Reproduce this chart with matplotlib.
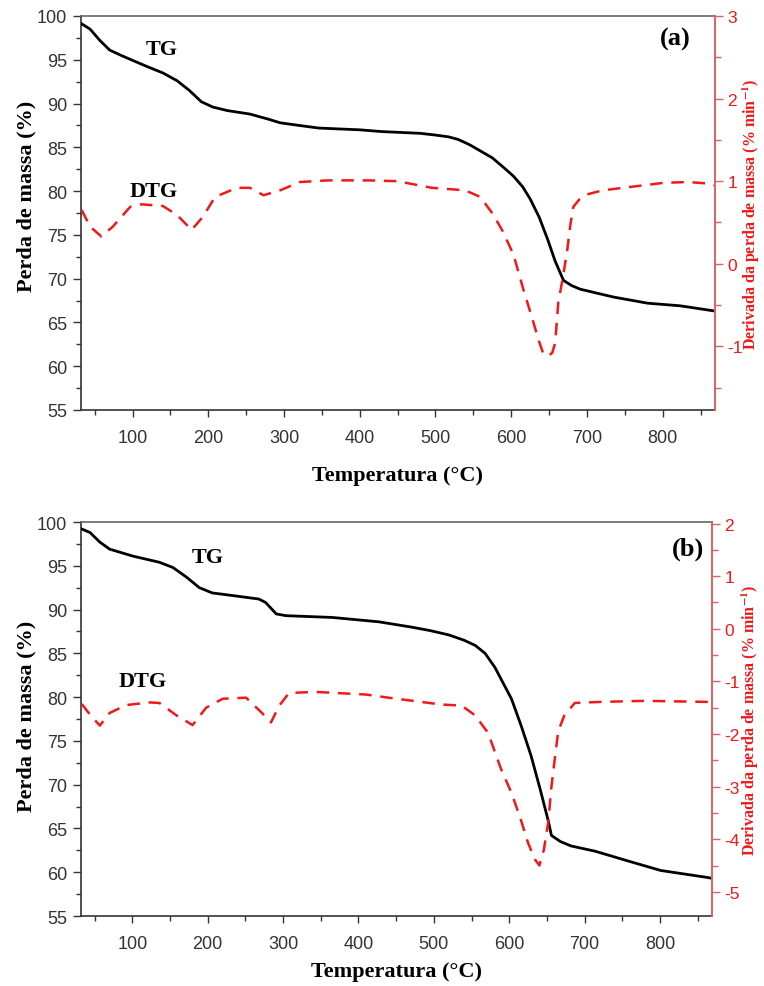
'''
TG / DTG curves for two samples, (a) on top and (b) below.
'''

import numpy as np
import matplotlib.pyplot as plt
from matplotlib.ticker import MultipleLocator

plt.rcParams['mathtext.fontset'] = 'stix'
plt.rcParams['axes.unicode_minus'] = False

# Sample (a) - TG curve
temp_tg_a = [33, 44, 57, 70, 85, 101, 120, 140, 159, 175, 191, 206, 225, 255,
             280, 295, 320, 346, 400, 429, 480, 500, 517, 530, 545, 559, 575,
             590, 603, 615, 625, 637, 648, 658, 669, 680, 691, 735, 780, 823, 869]
mass_a = [99.1, 98.5, 97.2, 96.1, 95.5, 94.9, 94.2, 93.5, 92.6, 91.5, 90.2,
          89.6, 89.2, 88.8, 88.2, 87.8, 87.5, 87.2, 87.0, 86.8, 86.6, 86.4,
          86.2, 85.9, 85.3, 84.6, 83.8, 82.7, 81.7, 80.5, 79.1, 77.0, 74.5,
          72.0, 69.8, 69.2, 68.8, 67.9, 67.2, 66.9, 66.3]

# Sample (a) - DTG curve
temp_dtg_a = [33, 44, 59, 74, 97, 112, 140, 159, 178, 193, 209, 238, 255, 273,
              295, 321, 358, 412, 450, 495, 539, 559, 576, 589, 603, 616, 628,
              636, 642, 648, 654, 658, 662, 669, 674, 678, 682, 690, 700, 721,
              757, 801, 833, 863, 869]
deriv_a = [0.65, 0.45, 0.33, 0.45, 0.69, 0.72, 0.70, 0.59, 0.41, 0.57, 0.81,
           0.92, 0.92, 0.83, 0.89, 0.99, 1.01, 1.01, 1.00, 0.92, 0.89, 0.81,
           0.60, 0.39, 0.11, -0.31, -0.67, -0.92, -1.08, -1.12, -1.08, -0.96,
           -0.48, -0.12, 0.17, 0.47, 0.69, 0.78, 0.84, 0.89, 0.93, 0.98, 0.99,
           0.97, 0.95]

# Sample (b) - TG curve
temp_tg_b = [33, 44, 57, 70, 101, 136, 154, 172, 189, 206, 233, 268, 277, 291,
             304, 365, 427, 470, 495, 520, 540, 555, 568, 581, 603, 616, 629,
             641, 652, 656, 668, 682, 714, 757, 801, 863, 869]
mass_b = [99.2, 98.8, 97.7, 96.9, 96.1, 95.4, 94.8, 93.7, 92.5, 91.9, 91.6,
          91.2, 90.8, 89.5, 89.3, 89.1, 88.6, 88.0, 87.6, 87.1, 86.5, 85.9,
          85.0, 83.4, 79.8, 76.7, 73.3, 69.5, 65.8, 64.2, 63.5, 63.0, 62.4,
          61.3, 60.2, 59.4, 59.3]

# Sample (b) - DTG curve
temp_dtg_b = [33, 45, 57, 70, 92, 123, 136, 159, 180, 198, 220, 251, 272, 284,
              295, 308, 343, 410, 440, 510, 537, 555, 572, 589, 603, 615, 625,
              634, 640, 646, 652, 656, 661, 665, 673, 687, 721, 780, 863, 869]
deriv_b = [-1.43, -1.65, -1.84, -1.60, -1.45, -1.40, -1.41, -1.65, -1.83, -1.50,
           -1.33, -1.31, -1.60, -1.78, -1.46, -1.22, -1.20, -1.25, -1.31, -1.44,
           -1.46, -1.65, -1.98, -2.66, -3.12, -3.61, -4.07, -4.38, -4.50, -4.20,
           -3.65, -3.00, -2.41, -1.95, -1.65, -1.41, -1.39, -1.37, -1.39, -1.39]

RED = '#f01818'
RED_AXIS = '#e06060'
GREY = '#333333'
SERIF = 'Liberation Serif'
SANS = 'Liberation Sans'


# Draws one TG/DTG panel with its twin axis
def draw_panel(ax, t_tg, tg, t_dtg, dtg, dtg_lim, tag, tg_pos, dtg_pos, tag_pos, xlab_y, ylab_y, rlab_x):

    ax.plot(t_tg, tg, color='black', lw=2.0, zorder=3)
    ax.set_xlim(32, 869)
    ax.set_ylim(55, 100)
    ax.xaxis.set_minor_locator(MultipleLocator(50))
    ax.yaxis.set_major_locator(MultipleLocator(5))
    ax.yaxis.set_minor_locator(MultipleLocator(2.5))
    ax.set_xticks([100, 200, 300, 400, 500, 600, 700, 800])

    ax.tick_params(which='major', length=6, width=1.0, color=GREY, labelcolor=GREY, labelsize=13, pad=4)
    ax.tick_params(which='minor', length=3.5, width=1.0, color=GREY)
    ax.tick_params(axis='x', which='major', length=5, pad=9)
    for lab in ax.get_xticklabels() + ax.get_yticklabels():
        lab.set_family(SANS)

    for side in ['left', 'bottom']:
        ax.spines[side].set_color(GREY)
        ax.spines[side].set_linewidth(1.2)
    ax.spines['top'].set_color('#666666')
    ax.spines['top'].set_linewidth(1.2)
    ax.spines['right'].set_visible(False)

    ax.set_xlabel('Temperatura (°C)', family=SERIF, fontweight='bold', fontsize=16)
    ax.set_ylabel('Perda de massa (%)', family=SERIF, fontweight='bold', fontsize=16)
    ax.xaxis.set_label_coords(0.5, xlab_y)
    ax.yaxis.set_label_coords(-0.07, ylab_y)

    # Right axis with the derivative
    ax2 = ax.twinx()
    ax2.plot(t_dtg, dtg, color=RED, lw=1.8, linestyle=(0, (5, 3.5)), zorder=2)
    ax2.set_ylim(*dtg_lim)
    ax2.yaxis.set_major_locator(MultipleLocator(1))
    ax2.yaxis.set_minor_locator(MultipleLocator(0.5))
    ax2.tick_params(which='major', length=6, width=1.0, color=RED_AXIS, labelcolor=RED, labelsize=12.5, pad=3)
    ax2.tick_params(which='minor', length=4, width=1.0, color=RED_AXIS)
    for lab in ax2.get_yticklabels():
        lab.set_family(SANS)
    for side in ['left', 'top', 'bottom']:
        ax2.spines[side].set_visible(False)
    ax2.spines['right'].set_color(RED_AXIS)
    ax2.spines['right'].set_linewidth(1.4)
    ax2.set_ylabel('Derivada da perda de massa (% min$^{\\mathbf{-1}}$)', color=RED,
                   family=SERIF, fontweight='bold', fontsize=11.5)
    ax2.yaxis.set_label_coords(rlab_x, 0.5)

    # Curve names and panel tag
    ax.text(*tg_pos, 'TG', transform=ax.transAxes, ha='center', va='center',
            family=SERIF, fontweight='bold', fontsize=16)
    ax.text(*dtg_pos, 'DTG', transform=ax.transAxes, ha='center', va='center',
            family=SERIF, fontweight='bold', fontsize=16)
    ax.text(*tag_pos, tag, transform=ax.transAxes, ha='center', va='center',
            family=SERIF, fontweight='bold', fontsize=19)


fig = plt.figure(figsize=(7.64, 9.87), dpi=100)

ax_a = fig.add_axes([81 / 764, 1 - 411 / 987, 634 / 764, 394 / 987])
draw_panel(ax_a, temp_tg_a, mass_a, temp_dtg_a, deriv_a, (-1.77, 3.0), '(a)',
           (0.128, 0.916), (0.114, 0.556), (0.938, 0.942), -0.14, 0.545, 1.04)

ax_b = fig.add_axes([81 / 764, 1 - 917 / 987, 631 / 764, 394 / 987])
draw_panel(ax_b, temp_tg_b, mass_b, temp_dtg_b, deriv_b, (-5.46, 2.03), '(b)',
           (0.201, 0.911), (0.098, 0.596), (0.962, 0.934), -0.114, 0.51, 1.044)

fig.savefig('out.png', dpi=100)
